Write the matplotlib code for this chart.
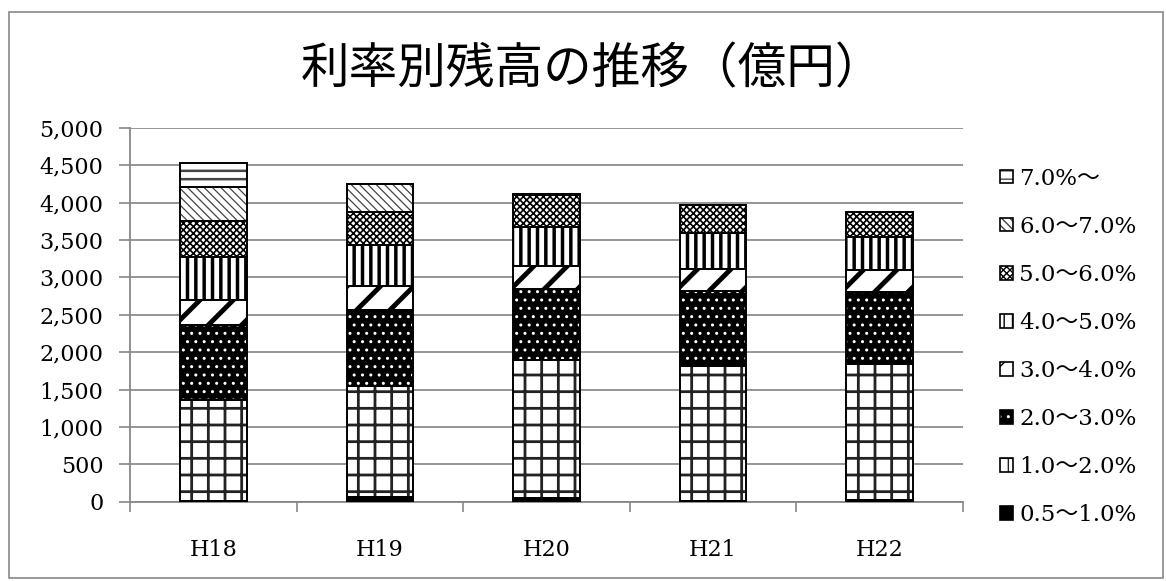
import numpy as np
import matplotlib
matplotlib.use("Agg")
import matplotlib.pyplot as plt
from matplotlib.patches import Patch, Rectangle
from matplotlib.legend_handler import HandlerTuple
from matplotlib.ticker import FuncFormatter, MultipleLocator

# 年度
years = ["H18", "H19", "H20", "H21", "H22"]

# 利率別残高（億円） 下から順
r05_10 = [10, 60, 50, 15, 20]
r10_20 = [1354, 1482, 1849, 1794, 1821]
r20_30 = [993, 1025, 949, 1012, 962]
r30_40 = [344, 321, 307, 294, 290]
r40_50 = [570, 539, 513, 477, 446]
r50_60 = [477, 446, 427, 373, 331]
r60_70 = [455, 379, 20, 0, 0]
r70_up = [326, 0, 0, 0, 0]

labels = ["0.5～1.0%", "1.0～2.0%", "2.0～3.0%", "3.0～4.0%",
          "4.0～5.0%", "5.0～6.0%", "6.0～7.0%", "7.0%～"]
series = [r05_10, r10_20, r20_30, r30_40, r40_50, r50_60, r60_70, r70_up]

# (facecolor, hatch, hatch colour, hatch linewidth)
styles = [
    ("black", None, "black", 1.0),
    ("white", "+", "#222222", 2.0),
    ("black", "..", "white", 1.0),
    ("white", "/", "black", 3.5),
    ("white", "||", "black", 2.5),
    ("white", "xxxxx", "black", 1.2),
    ("white", "\\\\\\\\", "#444444", 0.9),
    ("white", "--", "#444444", 1.8),
]

fig = plt.figure(figsize=(11.66, 5.81), dpi=100)
ax = fig.add_axes([130 / 1166, 1 - 501.7 / 581, (963 - 130) / 1166, (501.7 - 127.7) / 581])

x = np.arange(len(years))
width = 0.4
bottom = np.zeros(len(years))
handles = []
for vals, lab, (fc, h, hc, hlw) in zip(series, labels, styles):
    vals = np.array(vals, dtype=float)
    with plt.rc_context({"hatch.linewidth": hlw}):
        ax.bar(x, vals, width, bottom=bottom, color=fc, edgecolor=hc,
               hatch=h, linewidth=0, zorder=3)
        fill_h = Patch(facecolor=fc, edgecolor=hc, hatch=h, linewidth=0)
    edge_h = Patch(fill=False, edgecolor="black", linewidth=1.2)
    handles.append((fill_h, edge_h))
    ax.bar(x, vals, width, bottom=bottom, fill=False, edgecolor="black",
           linewidth=1.4, zorder=4)
    bottom += vals

ax.set_xlim(-0.5, len(years) - 0.5)
ax.set_ylim(0, 5000)
ax.yaxis.set_major_locator(MultipleLocator(500))
ax.yaxis.set_major_formatter(FuncFormatter(lambda v, p: f"{int(v):,}"))
ax.set_xticks(x)
ax.set_xticklabels(years)
ax.set_xticks(np.arange(-0.5, len(years)), minor=True)

serif = ["DejaVu Serif", "Noto Sans CJK JP"]
ax.tick_params(axis="x", which="major", length=0, pad=27, labelsize=16)
ax.tick_params(axis="x", which="minor", length=7, color="#888888", width=1.2)
ax.tick_params(axis="y", length=8, color="#888888", width=1.2, pad=11, labelsize=16)
for t in ax.get_xticklabels() + ax.get_yticklabels():
    t.set_family(serif)

ax.grid(axis="y", color="#8c8c8c", linewidth=1.3, zorder=0)
ax.set_axisbelow(True)
for s in ["top", "right"]:
    ax.spines[s].set_visible(False)
for s in ["left", "bottom"]:
    ax.spines[s].set_color("#888888")
    ax.spines[s].set_linewidth(1.3)

leg = fig.legend(handles[::-1], labels[::-1], loc="center left",
                 bbox_to_anchor=(1000 / 1166, 1 - 347 / 581), frameon=False,
                 prop={"family": serif, "size": 16.5}, handlelength=0.55,
                 handleheight=0.55, handletextpad=0.3, labelspacing=1.14,
                 borderpad=0, borderaxespad=0,
                 handler_map={tuple: HandlerTuple(ndivide=1)})

fig.text(0.508, 1 - 70 / 581, "利率別残高の推移（億円）", ha="center", va="center",
         fontsize=35, family=["Noto Sans CJK JP", "DejaVu Sans"])

fig.patches.append(Rectangle((9 / 1166, 1 - 578 / 581), (1163 - 9) / 1166, (578 - 12) / 581,
                             transform=fig.transFigure, fill=False,
                             edgecolor="#888888", linewidth=1.2))

fig.savefig("out.png", dpi=100)
